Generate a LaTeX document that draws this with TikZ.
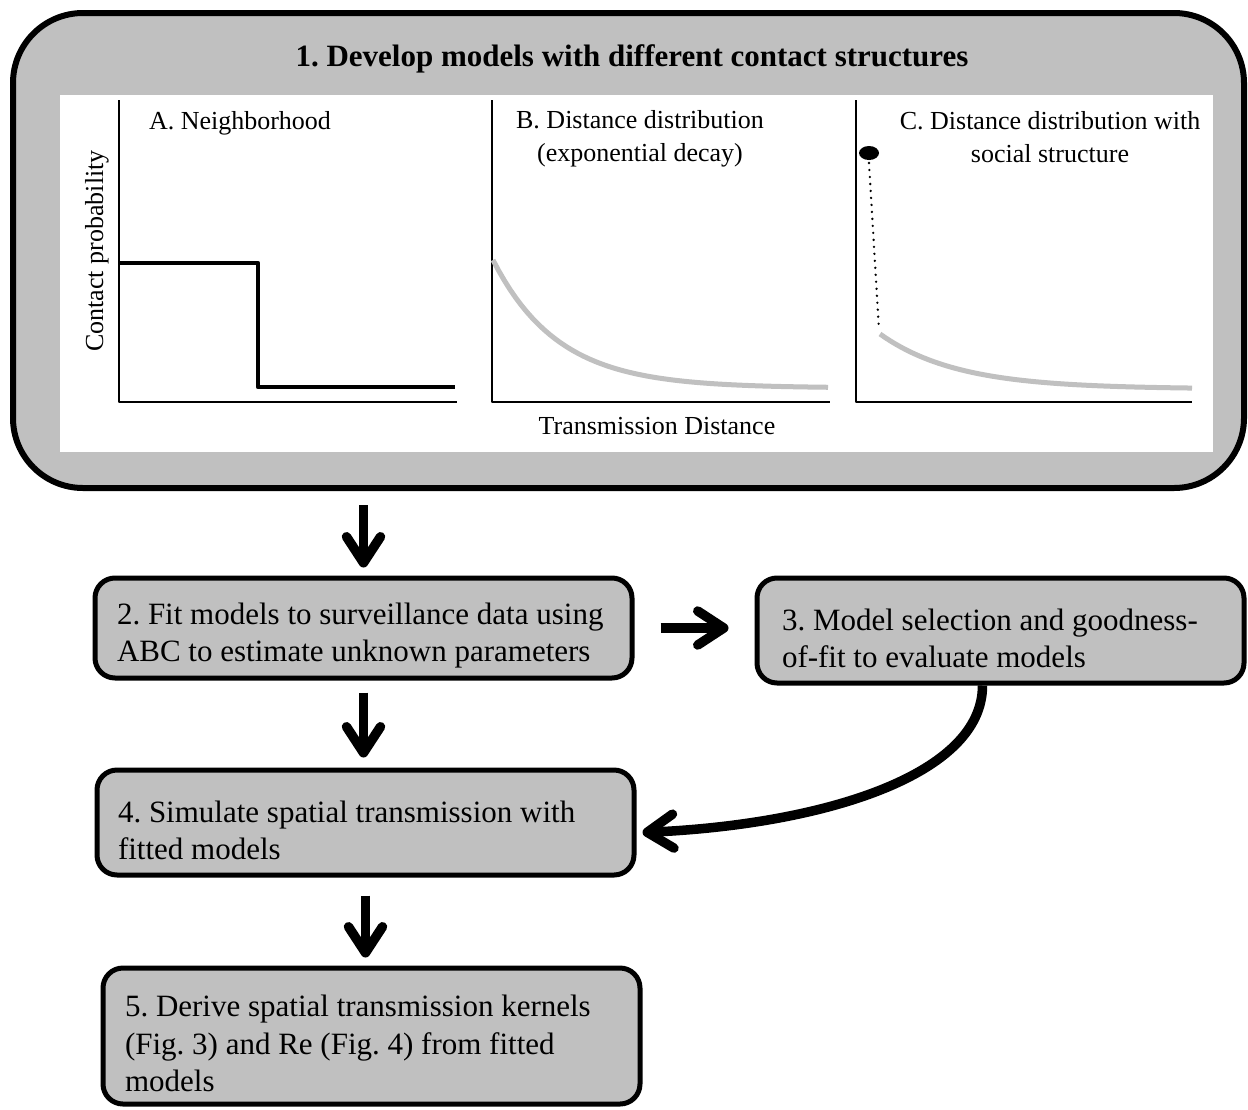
\documentclass[tikz,border=0pt]{standalone}
\usepackage{fontspec}
\setmainfont{Liberation Serif}
\usetikzlibrary{arrows.meta, positioning}
\definecolor{boxgray}{RGB}{192,192,192}

\begin{document}
\frenchspacing
\begin{tikzpicture}[x=1pt, y=-1pt, line join=round,
    stagebox/.style={rectangle, draw, rounded corners=20pt, line width=5pt, fill=boxgray,
        align=flush left, text width=493pt, inner xsep=22pt, minimum height=100pt,
        execute at begin node={\rule{0pt}{37pt}},
        font=\fontsize{31}{37.5}\selectfont},
    panel/.style={align=center, font=\fontsize{26}{33}\selectfont},
    bigarrow/.style={line width=9.5pt, -{Straight Barb[length=26pt, width=34pt, round]}}]
    \useasboundingbox (0,0) rectangle (1248,1109);

    % Nodes
    \node[rectangle, draw, line width=6pt, rounded corners=70pt, fill=boxgray,
        minimum width=1231pt, minimum height=475pt](develop) at (628.5,250.5) {};
    \node[font=\bfseries\fontsize{31}{37}\selectfont](title) at (632,59)
    {1. Develop models with different contact structures};
    \node[rectangle, fill=white, inner sep=0pt, anchor=north west,
        minimum width=1153pt, minimum height=357pt](panels) at (60,95) {};

    \node[stagebox](fit) at (363.5,628) {2. Fit models to surveillance data using\\ ABC to estimate unknown parameters};
    \node[stagebox, minimum height=105pt, text width=437pt, inner xsep=25pt](select) at (1000.5,630.5)
    {3. Model selection and goodness-\\ of-fit to evaluate models};
    \node[stagebox, minimum height=105pt, text width=495pt, inner xsep=21pt](simulate) at (365.5,822.5)
    {4. Simulate spatial transmission with\\ fitted models};
    \node[stagebox, minimum height=136pt](derive) at (371.5,1036)
    {5. Derive spatial transmission kernels\\ (Fig. 3) and Re (Fig. 4) from fitted\\ models};

    % Contact panels
    \foreach \xa/\xb in {119/457, 492/830, 856/1192}
        \draw[line width=1.3pt] (\xa,100) -- (\xa,402) -- (\xb,402);

    \draw[line width=4.5pt] (119,263) -- (258,263) -- (258,387) -- (455,387);
    \draw[boxgray, line width=5pt, domain=0:335, samples=60]
        plot ({493+\x}, {388-128*exp(-0.0154*\x)});
    \draw[boxgray, line width=5pt, domain=0:312, samples=60]
        plot ({880+\x}, {389-55*exp(-0.013*\x)});
    \fill (869,153) ellipse [x radius=10pt, y radius=7pt];
    \draw[line width=2.6pt, line cap=round, dash pattern=on 0pt off 7pt] (869,163) -- (879,330);

    \node[panel](labA) at (240,123) {A. Neighborhood};
    \node[panel](labB) at (640,139) {B. Distance distribution\\ (exponential decay)};
    \node[panel](labC) at (1050,137) {C. Distance distribution with\\ social structure};
    \node[panel, rotate=90](ylab) at (97,251) {Contact probability};
    \node[panel](xlab) at (657,426) {Transmission Distance};

    % Arrows
    \draw[bigarrow, shorten <=14pt, shorten >=8pt] (develop.south -| fit.north) -- (fit.north);
    \draw[bigarrow, shorten <=26pt, shorten >=26pt] (fit.east) -- (fit.east -| select.west);
    \draw[bigarrow, shorten <=12pt, shorten >=10pt] (fit.south) -- (fit.south |- simulate.north);
    \draw[bigarrow, shorten <=18pt, shorten >=8pt] (simulate.south) -- (simulate.south |- derive.north);
    \draw[bigarrow] ([xshift=-18pt]select.south) .. controls +(0,90) and +(180,-8) .. ([shift={(6pt,-10pt)}]simulate.east);

\end{tikzpicture}
\end{document}
